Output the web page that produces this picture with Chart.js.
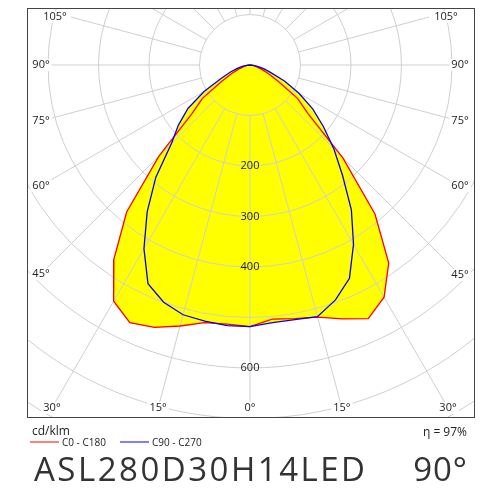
<!DOCTYPE html>
<html><head><meta charset="utf-8">
<script src="https://cdn.jsdelivr.net/npm/chart.js@4"></script>
<style>html,body{margin:0;padding:0;background:#fff}#w{width:500px;height:500px}</style>
</head><body><div id="w"><canvas id="c"></canvas></div>
<script>
const gammaAngles = [-90,-85,-80,-75,-70,-65,-60,-55,-50,-45,-40,-35,-30,-25,-20,-15,-10,-5,0,5,10,15,20,25,30,35,40,45,50,55,60,65,70,75,80,85,90];
const c0c180 = [0,4,8,14,24,40,65,115,150,255,380,470,540,563,553,535,518,515,518,505,510,517,535,554,531,479,385,260,150,115,65,40,24,14,8,4,0];
const c90c270 = [0,6,14,26,42,64,105,150,185,220,290,355,420,478,500,512,515,518,518,512,512,516,495,466,410,350,285,235,190,152,112,76,44,28,15,6,0];
const ringValues = [100,200,300,400,500,600,700,800,900,1000];
const ringLabels = [200,300,400,600];
const angleLabels = [105,90,75,60,45,30,15,0,15,30,45,60,75,90,105];
const spokeAngles = [-180,-165,-150,-135,-120,-105,-90,-75,-60,-45,-30,-15,0,15,30,45,60,75,90,105,120,135,150,165];
const legendNames = ['C0 - C180','C90 - C270'];

function toXY(vals){return vals.map((r,i)=>{const a=gammaAngles[i]*Math.PI/180;return {x:r*Math.sin(a),y:-r*Math.cos(a)};});}
const red = toXY(c0c180), blue = toXY(c90c270);

const gridPlugin = {
  id:'grid',
  afterDatasetDraw(chart,args){
    if(args.index!==2) return;
    const ctx=chart.ctx, xs=chart.scales.x, ys=chart.scales.y, ca=chart.chartArea;
    const cx=xs.getPixelForValue(0), cy=ys.getPixelForValue(0);
    const k=xs.getPixelForValue(100)-cx;
    ctx.save();
    ctx.beginPath();ctx.rect(ca.left,ca.top,ca.right-ca.left,ca.bottom-ca.top);ctx.clip();
    ctx.strokeStyle='#cfcfcf';ctx.lineWidth=1;
    ringValues.forEach(v=>{ctx.beginPath();ctx.arc(cx,cy,v*k/100,0,Math.PI*2);ctx.stroke();});
    const inX=14, inY=9;
    const L=ca.left+inX,R=ca.right-inX,T=ca.top+inY,B=ca.bottom-inY;
    const ends={};
    spokeAngles.forEach(g=>{
      const a=g*Math.PI/180, dx=Math.sin(a), dy=Math.cos(a);
      let t=1e9;
      if(dx<-1e-9)t=Math.min(t,(L-cx)/dx); if(dx>1e-9)t=Math.min(t,(R-cx)/dx);
      if(dy<-1e-9)t=Math.min(t,(T-cy)/dy); if(dy>1e-9)t=Math.min(t,(B-cy)/dy);
      const r0=k;
      ctx.beginPath();ctx.moveTo(cx+dx*r0,cy+dy*r0);
      const full = Math.abs(g)>105;
      const tt = full?2000:t;
      ctx.lineTo(cx+dx*tt,cy+dy*tt);ctx.stroke();
      ends[g]=[cx+dx*t,cy+dy*t];
    });
    ctx.restore();
    ctx.save();
    ctx.font='11px "Open Sans", sans-serif';ctx.textAlign='center';ctx.textBaseline='middle';
    const gs=[-105,-90,-75,-60,-45,-30,-15,0,15,30,45,60,75,90,105];
    gs.forEach((g,i)=>{
      let [px,py]=ends[g];
      if(Math.abs(g)===105){px = g<0? ca.left+28: ca.right-28; py=ca.top+9;}
      const txt=angleLabels[i]+'°';
      const w=ctx.measureText(txt).width+4;
      ctx.fillStyle='#fff';ctx.fillRect(px-w/2,py-6,w,12);
      ctx.fillStyle='#222';ctx.fillText(txt,px,py);
    });
    ringLabels.forEach(v=>{
      const py=cy+v*k/100;
      ctx.fillStyle='#222';ctx.fillText(String(v),cx,py);
    });
    ctx.restore();
  },
  afterDraw(chart){
    const ctx=chart.ctx, ca=chart.chartArea;
    ctx.save();
    ctx.strokeStyle='#444';ctx.lineWidth=1;
    ctx.strokeRect(Math.round(ca.left)+0.5,Math.round(ca.top)+0.5,Math.round(ca.right-ca.left),Math.round(ca.bottom-ca.top));
    ctx.fillStyle='#222';ctx.textBaseline='alphabetic';
    ctx.font='12px "Open Sans", sans-serif';ctx.textAlign='left';
    ctx.fillText('cd/klm',32,435);
    ctx.textAlign='right';ctx.fillText('η = 97%',467,436);
    ctx.font='10px "Open Sans", sans-serif';ctx.textAlign='left';
    ctx.strokeStyle='#ff0000';ctx.beginPath();ctx.moveTo(30,442);ctx.lineTo(59,442);ctx.stroke();
    ctx.fillText(legendNames[0],62,446);
    ctx.strokeStyle='#0000ff';ctx.beginPath();ctx.moveTo(120,442);ctx.lineTo(149,442);ctx.stroke();
    ctx.fillText(legendNames[1],152,446);
    ctx.fillStyle='#333';ctx.font='33px "Open Sans", sans-serif';
    ctx.letterSpacing='2.5px';
    ctx.fillText('ASL280D30H14LED',34,481);
    ctx.letterSpacing='1px';
    ctx.textAlign='right';ctx.fillText('90°',468,481);
    ctx.restore();
  }
};

new Chart(document.getElementById('c'),{
  type:'scatter',
  data:{datasets:[
    {label:legendNames[1],data:blue,showLine:true,borderColor:'#0000ff',borderWidth:1.3,pointRadius:0,fill:false,tension:0},
    {label:legendNames[0],data:red,showLine:true,borderColor:'#ff0000',borderWidth:1.3,pointRadius:0,fill:false,tension:0},
    {label:'f1',data:blue,showLine:true,borderWidth:0,borderColor:'rgba(0,0,0,0)',backgroundColor:'#ffff00',pointRadius:0,fill:'shape'},
    {label:'f0',data:red,showLine:true,borderWidth:0,borderColor:'rgba(0,0,0,0)',backgroundColor:'#ffff00',pointRadius:0,fill:'shape'}
  ]},
  options:{
    responsive:true,maintainAspectRatio:false,animation:false,
    layout:{padding:{left:27,right:26,top:8,bottom:83}},
    plugins:{legend:{display:false},tooltip:{enabled:false}},
    scales:{
      x:{type:'linear',min:-441.6,max:443.6,display:false},
      y:{type:'linear',min:-697,max:112.9,display:false}
    }
  },
  plugins:[gridPlugin]
});
</script></body></html>
